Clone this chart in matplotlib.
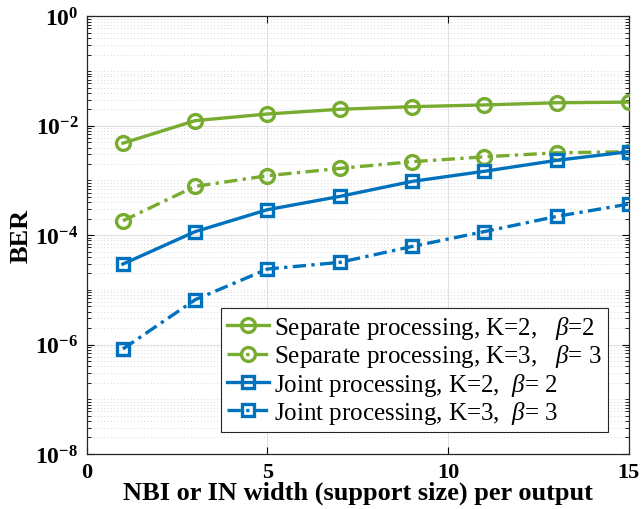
import matplotlib
matplotlib.use("Agg")
import matplotlib.pyplot as plt
from matplotlib.ticker import LogLocator, FixedLocator, FuncFormatter, NullFormatter
import numpy as np

plt.rcParams['font.family'] = ['Liberation Serif', 'DejaVu Serif']
plt.rcParams['mathtext.fontset'] = 'custom'
plt.rcParams['mathtext.rm'] = 'Liberation Serif'
plt.rcParams['mathtext.it'] = 'Liberation Serif:italic'
plt.rcParams['mathtext.bf'] = 'Liberation Serif:bold'

# Support size per output
support = [1, 3, 5, 7, 9, 11, 13, 15]

# Bit error rates
sep_k2 = [4.8e-3, 1.24e-2, 1.64e-2, 2.0e-2, 2.23e-2, 2.4e-2, 2.63e-2, 2.7e-2]
sep_k3 = [1.83e-4, 7.8e-4, 1.22e-3, 1.66e-3, 2.2e-3, 2.7e-3, 3.2e-3, 3.35e-3]
joint_k2 = [2.96e-5, 1.16e-4, 2.92e-4, 5.1e-4, 9.6e-4, 1.47e-3, 2.33e-3, 3.35e-3]
joint_k3 = [8.3e-7, 6.6e-6, 2.4e-5, 3.18e-5, 6.2e-5, 1.16e-4, 2.2e-4, 3.7e-4]

labels = [
    r"Separate processing, K=2,   $\beta$=2",
    r"Separate processing, K=3,   $\beta$= 3",
    r"Joint processing, K=2,  $\beta$= 2",
    r"Joint processing, K=3,  $\beta$= 3",
]

green = "#77AC30"
blue = "#0072BD"

fig = plt.figure(figsize=(6.43, 5.10), dpi=100)
ax = fig.add_axes([0.135, 0.108, 0.843, 0.858])

lw = 2.4
dashdot = (0, (4, 1.6, 1, 1.6))
common = dict(lw=lw, mfc='none', mew=2.4, zorder=3)
ax.plot(support, sep_k2, ls='-', color=green, marker='o', ms=10,
        label=labels[0], **common)
ax.plot(support, sep_k3, ls=dashdot, color=green, marker='o', ms=10,
        label=labels[1], **common)
ax.plot(support, joint_k2, ls='-', color=blue, marker='s', ms=8,
        label=labels[2], **common)
ax.plot(support, joint_k3, ls=dashdot, color=blue, marker='s', ms=8,
        label=labels[3], **common)

ax.set_yscale('log')
ax.set_xlim(0, 15)
ax.set_ylim(1e-8, 1e0)

ax.xaxis.set_major_locator(FixedLocator([0, 5, 10, 15]))
ax.yaxis.set_major_locator(FixedLocator([1e-8, 1e-6, 1e-4, 1e-2, 1e0]))
ax.yaxis.set_minor_locator(LogLocator(base=10, subs=np.arange(1, 10), numticks=30))
ax.yaxis.set_minor_formatter(NullFormatter())
ax.yaxis.set_major_formatter(FuncFormatter(
    lambda v, p: r"$\mathbf{10^{%d}}$" % int(round(np.log10(v)))))
ax.xaxis.set_major_formatter(FuncFormatter(lambda v, p: "%d" % v))

ax.tick_params(axis='both', which='major', direction='in',
               top=True, right=True, length=5, width=0.8)
ax.tick_params(axis='x', which='major', pad=6, labelsize=16)
ax.tick_params(axis='y', which='major', pad=6, labelsize=17)
ax.tick_params(axis='y', which='minor', direction='in', right=True,
               length=3, width=0.6)
for lab in ax.get_xticklabels():
    lab.set_fontweight('bold')

ax.grid(True, which='major', color='#e0e0e0', lw=0.8, ls='-')
ax.grid(True, which='minor', axis='y', color='#cccccc', lw=0.6, ls=(0, (1, 3)))
ax.set_axisbelow(True)

for s in ax.spines.values():
    s.set_color('#262626')
    s.set_linewidth(0.9)

ax.set_xlabel("NBI or IN width (support size) per output", fontsize=19,
              fontweight='bold', labelpad=-1)
ax.set_ylabel("BER", fontsize=19, fontweight='bold', labelpad=2)

leg = ax.legend(loc='lower right', bbox_to_anchor=(0.962, 0.05), fontsize=18,
                fancybox=False, framealpha=1, edgecolor='#262626',
                handlelength=1.7, handletextpad=0.2, labelspacing=0.05,
                borderpad=0.25, borderaxespad=0)
leg.get_frame().set_linewidth(0.8)

fig.savefig("out.png", dpi=100)
